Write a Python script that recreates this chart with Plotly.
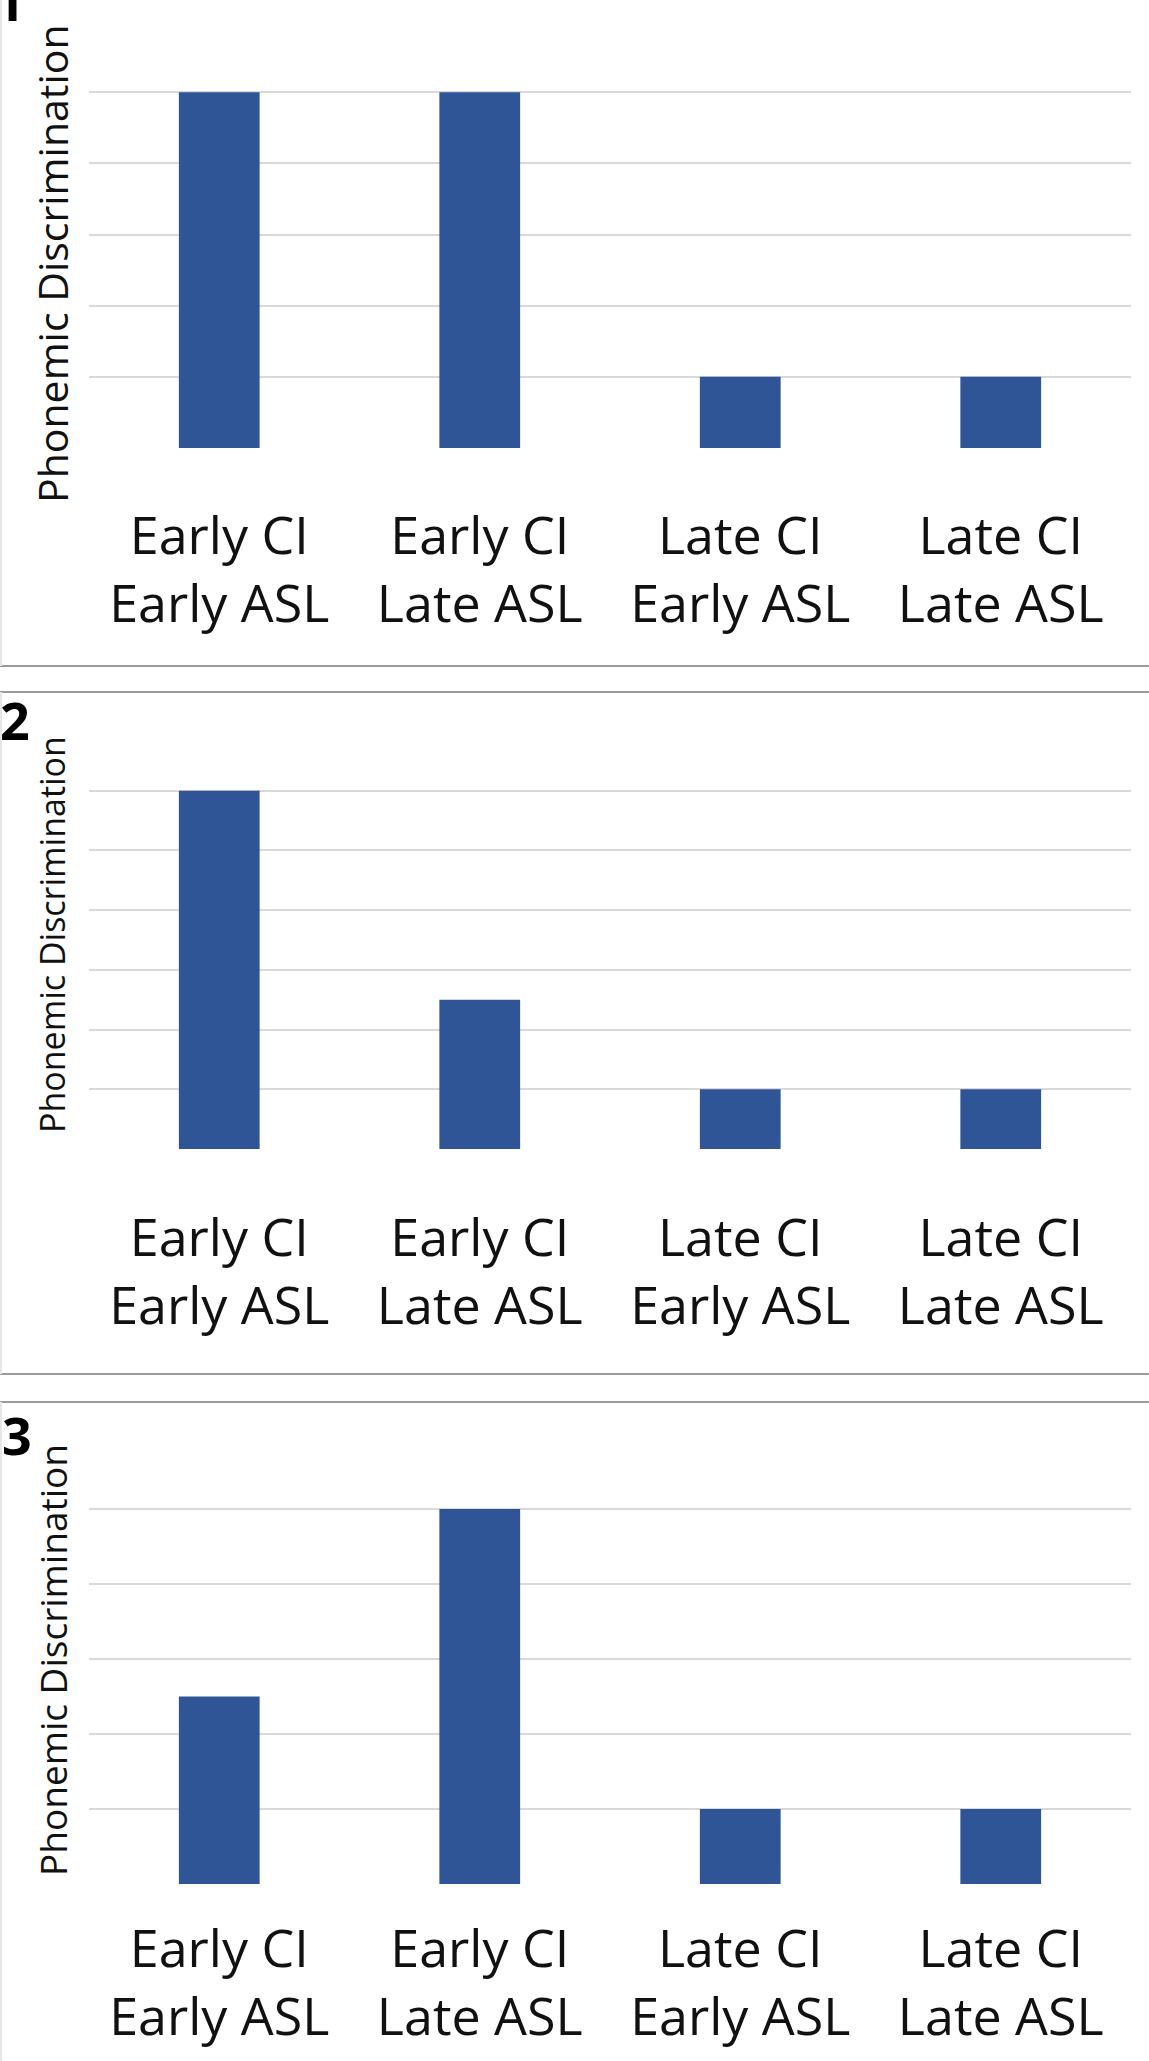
import plotly.graph_objects as go

# ---- data ----
categories = ["Early CI<br>Early ASL", "Early CI<br>Late ASL",
              "Late CI<br>Early ASL", "Late CI<br>Late ASL"]
panel1_values = [5, 5, 1, 1]
panel2_values = [6, 2.5, 1, 1]
panel3_values = [2.5, 5, 1, 1]
panel_labels = ["1", "2", "3"]
y_title = "Phonemic Discrimination"
y_max = [6, 7, 6]

W, H = 1149, 2061
BAR = "#2F5597"
GRID = "#d9d9d9"
FONT = "Open Sans"


def py(px):
    return 1 - px / H


def px_(x):
    return x / W


fig = go.Figure()
vals = [panel1_values, panel2_values, panel3_values]
for i, v in enumerate(vals):
    ax = "" if i == 0 else str(i + 1)
    fig.add_trace(go.Bar(x=categories, y=v, marker_color=BAR,
                         marker_line_width=0,
                         xaxis="x" + ax, yaxis="y" + ax, showlegend=False))

# plot areas (pixel rows)
plot_rows = [(21, 448), (731, 1149), (1434, 1884)]
standoffs = [53, 54, 30]
title_pos = [(52, 264, 41), (52, 935, 34), (52, 1660, 37)]
num_pos = [(10, 0), (15, 719), (17, 1434)]

layout = dict(width=W, height=H, margin=dict(l=0, r=0, t=0, b=0),
              paper_bgcolor="white", plot_bgcolor="white", bargap=0.69,
              font=dict(family=FONT, color="black"))
for i, (top, bot) in enumerate(plot_rows):
    sfx = "" if i == 0 else str(i + 1)
    layout["xaxis" + sfx] = dict(domain=[px_(89), px_(1131)],
                                 anchor="y" + sfx, showgrid=False,
                                 zeroline=False, showline=False, ticks="",
                                 tickfont=dict(family=FONT, size=52, color="#111111"),
                                 ticklabelstandoff=standoffs[i],
                                 fixedrange=True)
    layout["yaxis" + sfx] = dict(domain=[py(bot), py(top)],
                                 anchor="x" + sfx,
                                 range=[-0.0001, y_max[i] + 0.0001], dtick=1,
                                 showgrid=True, gridcolor=GRID, gridwidth=2,
                                 zeroline=False, showline=False,
                                 showticklabels=False, ticks="",
                                 fixedrange=True)
fig.update_layout(**layout)

ann = []
for i, (x, y, s) in enumerate(title_pos):
    ann.append(dict(text=y_title, x=px_(x), y=py(y), xref="paper", yref="paper",
                    textangle=-90, showarrow=False, xanchor="center", yanchor="middle",
                    font=dict(family=FONT, size=s, color="#111111")))
for i, (x, y) in enumerate(num_pos):
    ann.append(dict(text="<b>%s</b>" % panel_labels[i], x=px_(x), y=py(y),
                    xref="paper", yref="paper", showarrow=False,
                    xanchor="center", yanchor="middle",
                    font=dict(family=FONT, size=52, color="black")))
fig.update_layout(annotations=ann)

shapes = []
for yy in [666, 692, 1374, 1402]:
    shapes.append(dict(type="line", xref="paper", yref="paper",
                       x0=0, x1=1, y0=py(yy), y1=py(yy),
                       line=dict(color="#9a9a9a", width=2)))
for (a, b) in [(0, 666), (692, 1374), (1402, H)]:
    shapes.append(dict(type="line", xref="paper", yref="paper",
                       x0=px_(1), x1=px_(1), y0=py(a), y1=py(b),
                       line=dict(color="#e6e6e6", width=2)))
fig.update_layout(shapes=shapes)

fig.write_html("out.html")
